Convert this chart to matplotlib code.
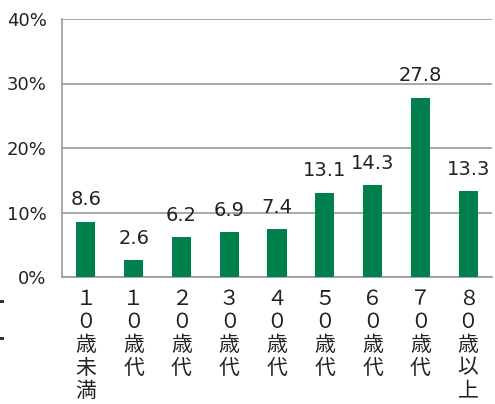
import matplotlib
matplotlib.use("Agg")
import matplotlib.pyplot as plt
from matplotlib.patches import Rectangle

plt.rcParams['font.family'] = ['Noto Sans CJK JP', 'DejaVu Sans']

categories = ["１\n０\n歳\n未\n満", "１\n０\n歳\n代", "２\n０\n歳\n代", "３\n０\n歳\n代",
              "４\n０\n歳\n代", "５\n０\n歳\n代", "６\n０\n歳\n代", "７\n０\n歳\n代", "８\n０\n歳\n以\n上"]
values = [8.6, 2.6, 6.2, 6.9, 7.4, 13.1, 14.3, 27.8, 13.3]
yticks = [0, 10, 20, 30, 40]
ytick_labels = ["0%", "10%", "20%", "30%", "40%"]

fig = plt.figure(figsize=(4.95, 4.04), dpi=100)
ax = fig.add_axes([62/495, 1-277/404, (492-62)/495, (277-19)/404])

x = list(range(len(values)))
ax.bar(x, values, width=0.4, color="#00804C", zorder=3)
for xi, v in zip(x, values):
    ax.text(xi, v + 1.9, f"{v}", ha="center", va="bottom", fontsize=14,
            family=['DejaVu Sans'], color="#222222")

ax.set_xlim(-0.5, len(values) - 0.5)
ax.set_ylim(0, 40)
ax.set_yticks(yticks)
ax.set_yticklabels(ytick_labels, fontsize=13, family=['DejaVu Sans'], color="#222222")
ax.set_xticks(x)
ax.set_xticklabels(categories, fontsize=15, linespacing=1.05, color="#222222", va="top")
ax.tick_params(axis="both", length=0)
ax.tick_params(axis="x", pad=8)
ax.tick_params(axis="y", pad=11)
ax.grid(axis="y", color="#999999", linewidth=1.2, zorder=0)
for s in ["top", "right"]:
    ax.spines[s].set_visible(False)
for s in ["left", "bottom"]:
    ax.spines[s].set_color("#999999")
    ax.spines[s].set_linewidth(1.2)

# small marks at the left edge
for ytop in (300, 337):
    fig.patches.append(Rectangle((0, 1 - (ytop + 3) / 404), 4 / 495, 3 / 404,
                                 transform=fig.transFigure, color="#333333", lw=0))

fig.savefig("out.png", dpi=100)
